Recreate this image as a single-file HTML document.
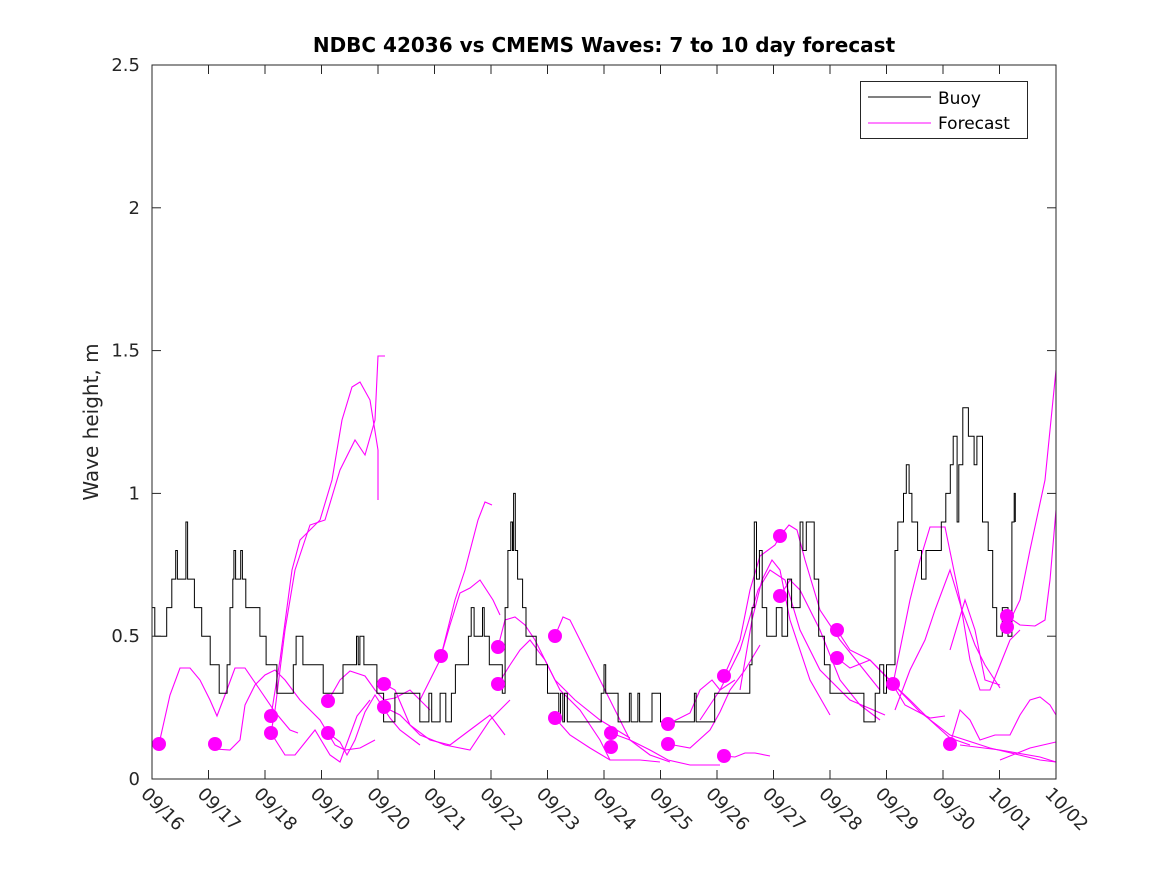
<!DOCTYPE html>
<html><head><meta charset="utf-8"><style>
body{margin:0;background:#fff}
svg{display:block;font-family:"DejaVu Sans","Liberation Sans",sans-serif}
</style></head><body>
<svg id="s" width="1167" height="875" viewBox="0 0 1167 875" xmlns="http://www.w3.org/2000/svg">
<rect width="1167" height="875" fill="#fff"/>
<g id="fc" fill="none" stroke="#ff00ff" stroke-width="1.1"></g>
<path id="buoy" fill="none" stroke="#000" stroke-width="1"/>
<g id="mk" fill="#ff00ff"></g>
<rect x="152" y="65" width="904" height="714" fill="none" stroke="#262626" stroke-width="1"/>
<g id="ax" stroke="#262626" stroke-width="1"></g>
<g id="lb" font-size="18" fill="#262626"></g>
<text x="604" y="52" text-anchor="middle" font-size="20" font-weight="bold" fill="#000">NDBC 42036 vs CMEMS Waves: 7 to 10 day forecast</text>
<text transform="translate(98,422) rotate(-90)" text-anchor="middle" font-size="20" fill="#262626">Wave height, m</text>
<rect x="860.5" y="81.5" width="167" height="57" fill="#fff" stroke="#262626"/>
<line x1="868" y1="97" x2="931" y2="97" stroke="#000"/>
<line x1="868" y1="123" x2="931" y2="123" stroke="#ff00ff"/>
<text x="938" y="104" font-size="17" fill="#000">Buoy</text>
<text x="938" y="129" font-size="17" fill="#000">Forecast</text>
</svg>
<script>
const X=d=>152+56.5*d, Y=v=>779-285.6*v;
const ax=document.getElementById('ax'), lb=document.getElementById('lb');
let h='',t='';
for(let i=0;i<=16;i++){const x=X(i);h+=`<line x1="${x}" y1="779" x2="${x}" y2="770"/><line x1="${x}" y1="65" x2="${x}" y2="74"/>`;
const dd=i<15?`09/${16+i}`:`10/0${i-14}`;
t+=`<text transform="translate(${x-12},${795}) rotate(45)" >${dd}</text>`;}
const yl=['0','0.5','1','1.5','2','2.5'];
for(let i=0;i<6;i++){const y=Y(i*0.5);h+=`<line x1="152" y1="${y}" x2="161" y2="${y}"/><line x1="1056" y1="${y}" x2="1047" y2="${y}"/>`;
t+=`<text x="140" y="${y+6}" text-anchor="end">${yl[i]}</text>`;}
ax.innerHTML=h;lb.innerHTML=t;
const B=[[0,.6],[.05,.5],[.26,.6],[.35,.7],[.42,.8],[.45,.7],[.6,.9],[.63,.7],[.75,.6],[.88,.5],[1.03,.4],[1.19,.3],[1.33,.4],[1.38,.6],[1.43,.7],[1.45,.8],[1.48,.7],[1.57,.8],[1.6,.7],[1.66,.6],[1.91,.5],[2.02,.4],[2.21,.3],[2.5,.4],[2.55,.5],[2.67,.4],[3.03,.3],[3.38,.4],[3.62,.5],[3.65,.4],[3.68,.5],[3.75,.4],[3.98,.3],[4.1,.2],[4.3,.3],[4.74,.2],[4.9,.3],[4.95,.2],[5.1,.3],[5.2,.2],[5.3,.3],[5.37,.4],[5.6,.5],[5.65,.6],[5.7,.5],[5.85,.6],[5.88,.5],[5.97,.4],[6.2,.3],[6.25,.6],[6.3,.8],[6.35,.9],[6.38,.8],[6.4,1.0],[6.43,.8],[6.47,.7],[6.56,.6],[6.62,.5],[6.8,.4],[7.0,.3],[7.2,.2],[7.23,.3],[7.27,.2],[7.3,.3],[7.35,.2],[7.95,.3],[8.0,.4],[8.03,.3],[8.25,.2],[8.45,.3],[8.48,.2],[8.6,.3],[8.63,.2],[8.85,.3],[9.0,.2],[9.6,.3],[9.63,.2],[9.96,.3],[10.58,.4],[10.62,.6],[10.66,.9],[10.7,.7],[10.75,.8],[10.8,.6],[10.88,.5],[11.05,.6],[11.15,.5],[11.25,.7],[11.32,.6],[11.47,.9],[11.52,.8],[11.58,.9],[11.72,.7],[11.8,.5],[11.9,.4],[12.0,.3],[12.6,.2],[12.8,.3],[12.88,.4],[12.95,.3],[13.0,.4],[13.1,.4],[13.15,.8],[13.2,.9],[13.3,1.0],[13.35,1.1],[13.4,1.0],[13.45,.9],[13.55,.8],[13.62,.7],[13.7,.8],[13.97,.9],[14.05,1.0],[14.13,1.1],[14.18,1.2],[14.25,.9],[14.28,1.1],[14.35,1.3],[14.45,1.2],[14.55,1.1],[14.6,1.2],[14.7,.9],[14.8,.8],[14.88,.6],[14.95,.5],[15.05,.6],[15.15,.5],[15.22,.9],[15.26,1.0],[15.28,.9]];
let p=`M${X(B[0][0])},${Y(B[0][1])}`;
for(let i=1;i<B.length;i++){p+=`H${X(B[i][0]).toFixed(1)}V${Y(B[i][1]).toFixed(1)}`;}
document.getElementById('buoy').setAttribute('d',p);
const F=[
"159,744 170,695 180,668 190,668 200,680 210,700 217,716 225,695 235,668 245,668 260,690 275,712 290,730 298,733",
"215,749 230,750 240,740 245,705 255,685 265,675 275,670 285,680 300,700 320,720 335,745 345,750 360,748 375,740",
"271,733 275,710 285,630 295,570 310,525 325,520 340,470 355,440 365,455 375,420 378,356 385,356",
"271,716 280,660 292,570 300,540 320,520 332,480 342,420 352,387 360,382 370,400 378,450 378,500",
"271,733 285,755 295,755 315,730 330,755 340,762 357,716 370,700",
"328,701 340,680 350,671 365,676 375,690 384,700 395,698 410,690 430,710",
"328,733 340,742 347,755 355,740 365,712 375,695 390,718 400,730 420,745",
"384,684 395,690 410,725 430,740 450,745 470,730 490,715 505,735",
"384,707 400,715 420,735 445,745 470,750 490,720 510,700",
"441,656 450,625 460,593 470,588 480,580 493,600 500,615",
"420,700 440,660 455,600 465,570 478,520 485,502 492,505",
"498,647 505,620 515,617 525,625 535,640 545,660 560,690 580,710 600,740 610,760 620,760",
"498,684 510,665 520,650 530,640 545,660 555,680 575,700 600,720 630,738",
"555,636 563,617 570,620 590,660 610,700 630,740 650,755 670,762",
"555,718 570,735 590,748 610,760 640,760 660,762",
"611,733 630,740 650,750 668,760 690,765 720,765",
"668,724 690,713 700,690 712,680 720,690 735,680",
"668,744 690,748 710,730 720,712 730,690 745,670 760,645",
"724,676 740,640 750,590 760,556 775,545 780,536",
"724,756 735,757 745,753 755,753 770,756",
"780,536 789,525 797,530 805,560 820,610 840,640 860,665 880,690",
"780,596 790,580 800,590 820,630 840,680 860,705 880,720",
"740,690 752,620 762,580 772,560 780,570 790,620 810,680 830,715",
"700,720 720,690 740,650 758,590 770,570 785,580 800,630 820,670 850,700 885,715",
"837,630 850,650 870,660 893,684 910,700 930,720 950,738 970,745",
"837,658 850,668 870,660 890,680 905,705 930,718 945,716",
"893,684 910,600 920,560 930,527 945,527 960,600 970,660 980,690 990,690 1000,665 1010,640 1020,630",
"895,710 910,670 925,640 935,610 950,570 962,610 975,645 985,665 1000,688",
"950,650 965,600 975,630 985,680 1000,685",
"893,684 920,712 950,735 990,748 1040,760 1056,762",
"950,744 960,710 970,720 980,740 995,735 1010,735 1020,715 1030,700 1040,697 1050,705 1056,715",
"1007,616 1020,625 1035,626 1045,620 1050,580 1056,510",
"1007,627 1020,600 1030,550 1045,480 1056,370",
"960,745 1000,750 1040,757 1056,762",
"1000,760 1030,748 1056,742"];
document.getElementById('fc').innerHTML=F.map(s=>`<polyline points="${s}"/>`).join('');
const M=[[159,744],[215,744],[271,716],[271,733],[328,701],[328,733],[384,684],[384,707],[441,656],[498,647],[498,684],[555,636],[555,718],[611,733],[611,747],[668,724],[668,744],[724,676],[724,756],[780,536],[780,596],[837,630],[837,658],[893,684],[950,744],[1007,616],[1007,627]];
document.getElementById('mk').innerHTML=M.map(m=>`<circle cx="${m[0]}" cy="${m[1]}" r="7"/>`).join('');
</script>
</body></html>
